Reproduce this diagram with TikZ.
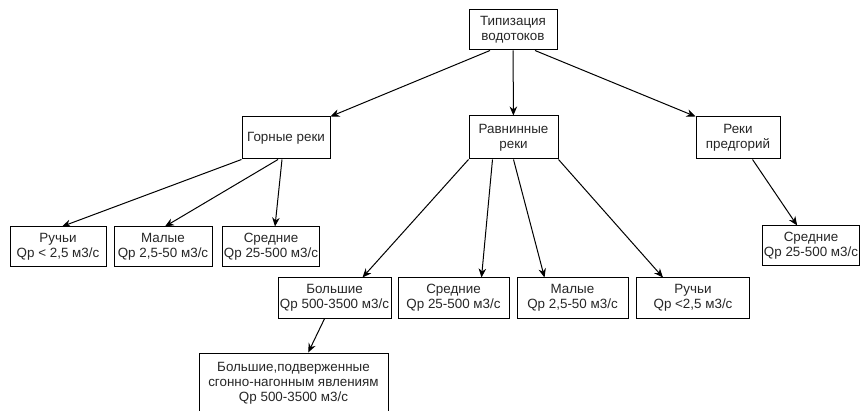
\documentclass[tikz,border=0pt]{standalone}
\usepackage{fontspec}
\newfontfamily\boxfont{Liberation Sans}
\usepackage{tikz}
\usetikzlibrary{arrows.meta}

\tikzset{
    box/.style={draw, rectangle, line width=1pt, align=center, inner sep=1pt,
        text=black!85, font=\boxfont\fontsize{13.4}{14.8}\selectfont},
    arr/.style={-{Stealth[length=9pt, width=7.5pt]}, line width=1pt}
}

\begin{document}
\begin{tikzpicture}[x=1pt, y=-1pt]
    % Frame
    \clip (0,0) rectangle (861,411);

    % Root
    \node[box, minimum width=88pt, minimum height=40pt] (top) at (513,30) {Типизация\\водотоков};

    % Level 1
    \node[box, minimum width=88pt, minimum height=42pt] (gorn) at (286,138) {Горные реки};
    \node[box, minimum width=89pt, minimum height=43pt] (ravn) at (513.5,137.5) {Равнинные\\реки};
    \node[box, minimum width=84pt, minimum height=42pt] (predg) at (738,138) {Реки\\предгорий};

    % Mountain rivers
    \node[box, minimum width=96pt, minimum height=40pt] (ruch1) at (58,247) {Ручьи\\Qp < 2,5 м3/с};
    \node[box, minimum width=98pt, minimum height=40pt] (mal1) at (163,247) {Малые\\Qp 2,5-50 м3/с};
    \node[box, minimum width=96pt, minimum height=40pt] (sred1) at (271,247) {Средние\\Qp 25-500 м3/с};

    % Plain rivers
    \node[box, minimum width=113pt, minimum height=40pt] (bol2) at (334.5,298) {Большие\\Qp 500-3500 м3/с};
    \node[box, minimum width=111pt, minimum height=40pt] (sred2) at (453.5,298) {Средние\\Qp 25-500 м3/с};
    \node[box, minimum width=111pt, minimum height=40pt] (mal2) at (572.5,298) {Малые\\Qp 2,5-50 м3/с};
    \node[box, minimum width=113pt, minimum height=40pt] (ruch2) at (693,298) {Ручьи\\Qp <2,5 м3/с};
    \node[box, minimum width=189pt, minimum height=60pt] (surge) at (293.5,383) {Большие,подверженные\\сгонно-нагонным явлениям\\Qp 500-3500 м3/с};

    % Foothill rivers
    \node[box, minimum width=96pt, minimum height=40pt] (sred3) at (811,246) {Средние\\Qp 25-500 м3/с};

    % Links from root
    \draw[arr] ([xshift=-23pt]top.south) -- (gorn.north east);
    \draw[arr] (top) -- (ravn);
    \draw[arr] ([xshift=22pt]top.south) -- (predg.north west);

    % Links from mountain rivers
    \draw[arr] (gorn.south west) -- ([xshift=4pt]ruch1.north);
    \draw[arr] ([xshift=-8pt]gorn.south) -- ([xshift=2pt]mal1.north);
    \draw[arr] ([xshift=-4pt]gorn.south) -- ([xshift=4pt]sred1.north);

    % Links from plain rivers
    \draw[arr] (ravn.south west) -- ([xshift=28pt]bol2.north);
    \draw[arr] ([xshift=-21pt]ravn.south) -- ([xshift=28pt]sred2.north);
    \draw[arr] (ravn.south) -- ([xshift=-28pt]mal2.north);
    \draw[arr] (ravn.south east) -- ([xshift=-30pt]ruch2.north);
    \draw[arr] (bol2) -- (surge);

    % Link from foothill rivers
    \draw[arr] (predg) -- (sred3);
\end{tikzpicture}
\end{document}
